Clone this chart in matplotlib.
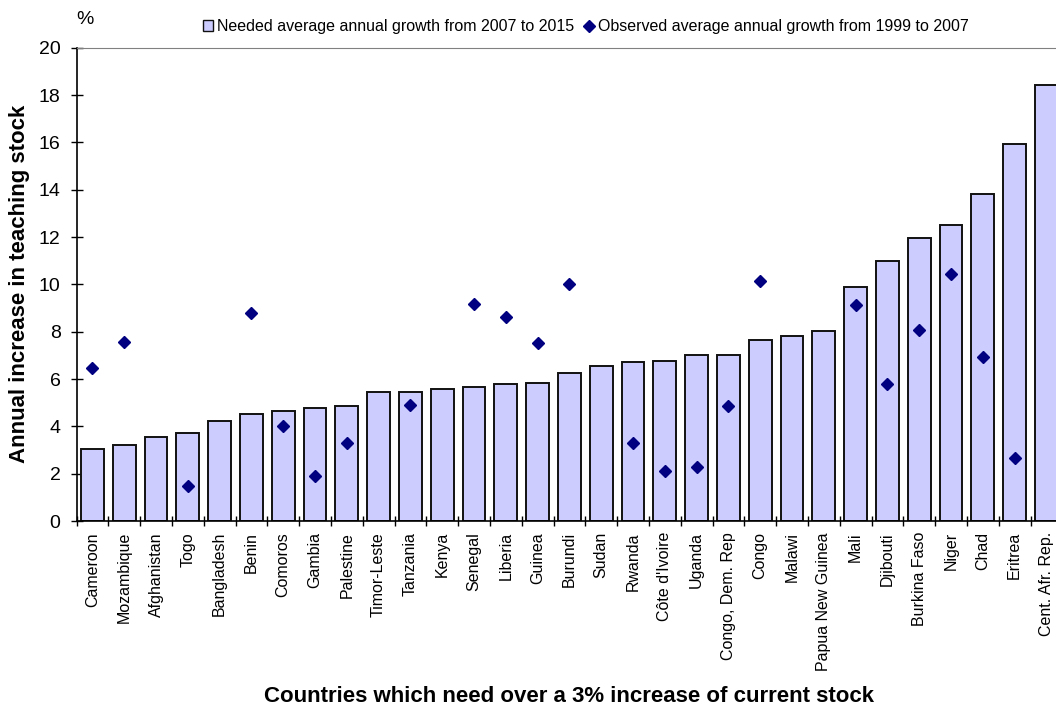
import numpy as np
import matplotlib
matplotlib.use("Agg")
import matplotlib.pyplot as plt
from matplotlib.lines import Line2D
from matplotlib.patches import Patch

plt.rcParams['font.family'] = ['Liberation Sans', 'DejaVu Sans']

countries = ["Cameroon", "Mozambique", "Afghanistan", "Togo", "Bangladesh", "Benin",
             "Comoros", "Gambia", "Palestine", "Timor-Leste", "Tanzania", "Kenya",
             "Senegal", "Liberia", "Guinea", "Burundi", "Sudan", "Rwanda",
             "Côte d'Ivoire", "Uganda", "Congo, Dem. Rep", "Congo", "Malawi",
             "Papua New Guinea", "Mali", "Djibouti", "Burkina Faso", "Niger",
             "Chad", "Eritrea", "Cent. Afr. Rep."]

# needed average annual growth 2007-2015 (%)
needed = [3.04, 3.21, 3.57, 3.71, 4.24, 4.52, 4.64, 4.76, 4.85, 5.43, 5.45, 5.59,
          5.65, 5.78, 5.82, 6.27, 6.54, 6.71, 6.78, 7.02, 7.02, 7.65, 7.82, 8.02,
          9.87, 10.99, 11.97, 12.50, 13.80, 15.94, 18.44]

# observed average annual growth 1999-2007 (%), None = no data
observed = [6.46, 7.58, None, 1.49, None, 8.78, 4.03, 1.89, 3.28, None, 4.92, None,
            9.18, 8.60, 7.54, 10.02, None, 3.30, 2.13, 2.30, 4.88, 10.15, None, None,
            9.13, 5.81, 8.09, 10.43, 6.91, 2.68, None]

n = len(countries)
x = np.arange(n)
obs = np.array([np.nan if v is None else v for v in observed])

W, H = 1056, 706
fig = plt.figure(figsize=(W / 100, H / 100), dpi=100)
slot = 31.8
left_px, top_px, bottom_px = 76.5, 47.7, 521
right_px = left_px + n * slot
ax = fig.add_axes([left_px / W, (H - bottom_px) / H,
                   (right_px - left_px) / W, (bottom_px - top_px) / H])

ax.bar(x, needed, width=0.72, color="#CCCCFF", edgecolor="#111111", linewidth=1.4, zorder=2)
ax.plot(x, obs, linestyle="none", marker="D", color="#000080", markersize=6.4, zorder=3)

ax.set_xlim(-0.5, n - 0.5)
ax.set_ylim(0, 20)
ax.set_yticks(range(0, 21, 2))
ax.tick_params(axis="y", direction="inout", length=9, width=1, labelsize=14, pad=7)
ax.set_xticks(x)
ax.set_xticklabels(countries, rotation=90, fontsize=11.5)
ax.set_xticks(np.arange(-0.5, n, 1), minor=True)
ax.tick_params(axis="x", which="major", length=0, pad=8)
ax.tick_params(axis="x", which="minor", direction="inout", length=7, width=1)

ax.spines["right"].set_visible(False)
ax.spines["top"].set_color("#808080")
ax.spines["left"].set_linewidth(1.2)
ax.spines["bottom"].set_linewidth(1.2)

fig.text(20 / W, 1 - 284 / H, "Annual increase in teaching stock", rotation=90,
         ha="center", va="center", fontsize=16, fontweight="bold")
fig.text(569 / W, 4 / H, "Countries which need over a 3% increase of current stock",
         ha="center", va="baseline", fontsize=16, fontweight="bold")
fig.text(85 / W, 1 - 20 / H, "%", ha="center", va="center", fontsize=14)

handles = [Patch(facecolor="#CCCCFF", edgecolor="#111111", linewidth=1.0),
           Line2D([], [], linestyle="none", marker="D", color="#000080", markersize=6.4)]
labels = ["Needed average annual growth from 2007 to 2015",
          "Observed average annual growth from 1999 to 2007"]
fig.legend(handles, labels, loc="center", bbox_to_anchor=(586 / W, 1 - 26.7 / H), ncol=2,
           frameon=False, fontsize=11.5, handlelength=0.65, handleheight=0.65,
           handletextpad=0.25, columnspacing=0.6, borderpad=0, borderaxespad=0)

fig.savefig("out.png", dpi=100)
